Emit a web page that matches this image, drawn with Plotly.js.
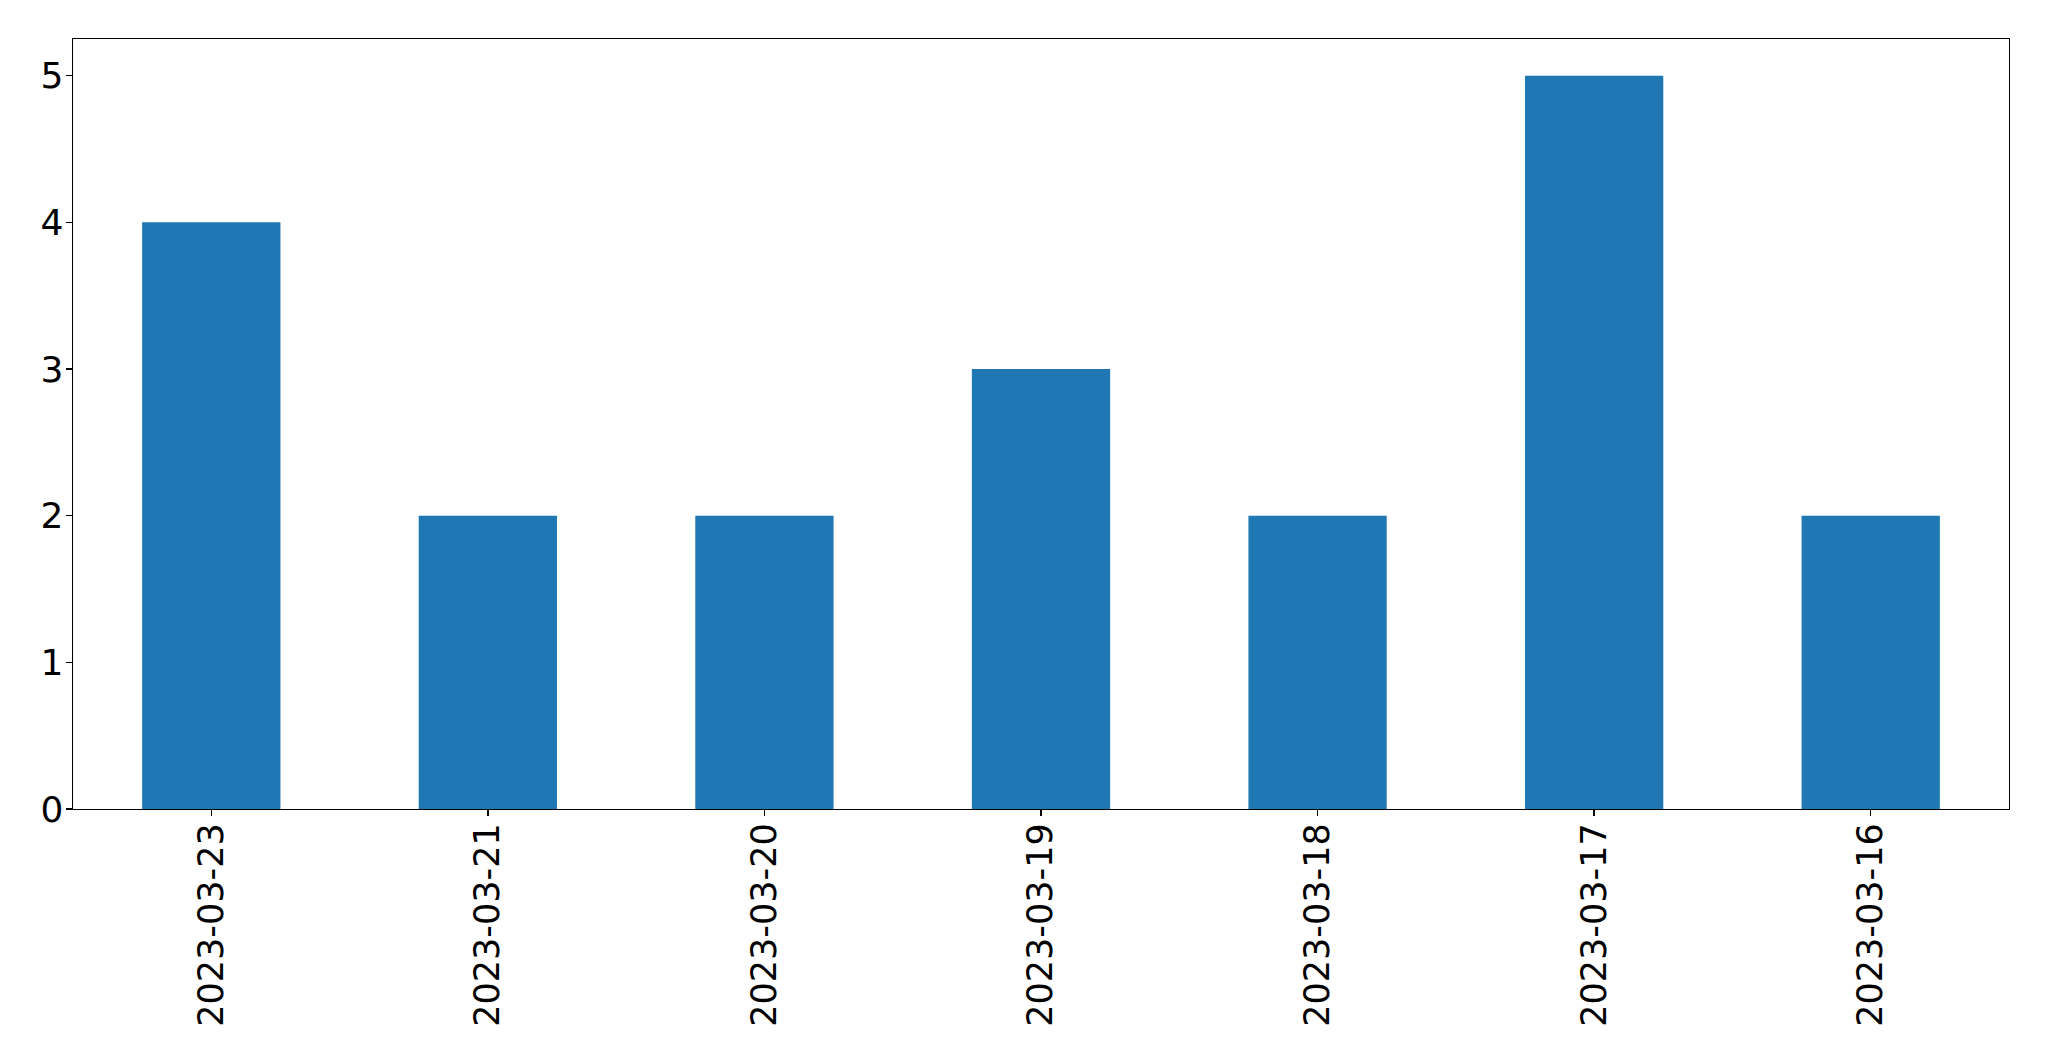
<!DOCTYPE html>
<html>
<head>
<meta charset="utf-8">
<script src="https://cdn.plot.ly/plotly-3.0.1.min.js"></script>
<style>
  html, body { margin: 0; padding: 0; background: #fff; }
  #chart { width: 2049px; height: 1061px; }
</style>
</head>
<body>
<div id="chart"></div>
<script>
const dates = ['2023-03-23', '2023-03-21', '2023-03-20', '2023-03-19', '2023-03-18', '2023-03-17', '2023-03-16'];
const counts = [4, 2, 2, 3, 2, 5, 2];
const yTicks = [0, 1, 2, 3, 4, 5];

const bars = {
    type: 'bar',
    x: dates,
    y: counts,
    width: 0.5,
    marker: { color: '#1f77b4', line: { width: 0 } },
    hoverinfo: 'x+y'
};

const axisStyle = {
    showline: true,
    linecolor: '#000',
    linewidth: 1.3,
    mirror: true,
    showgrid: false,
    zeroline: false,
    ticks: 'outside',
    ticklen: 6,
    tickwidth: 1.3,
    tickcolor: '#000'
};

Plotly.newPlot('chart', [bars], {
    width: 2049,
    height: 1061,
    margin: { l: 73, r: 40, t: 39, b: 252 },
    paper_bgcolor: '#fff',
    plot_bgcolor: '#fff',
    showlegend: false,
    xaxis: Object.assign({}, axisStyle, {
        type: 'category',
        range: [-0.5, 6.5],
        tickangle: -90,
        ticklabelstandoff: -7,
        tickfont: { family: 'DejaVu Sans', size: 35, color: '#000' }
    }),
    yaxis: Object.assign({}, axisStyle, {
        range: [0, 5.25],
        tickvals: yTicks,
        ticktext: yTicks.map(String),
        ticklabelstandoff: -5,
        tickfont: { family: 'DejaVu Sans', size: 36, color: '#000' }
    })
}, { displayModeBar: false, staticPlot: true });
</script>
</body>
</html>
